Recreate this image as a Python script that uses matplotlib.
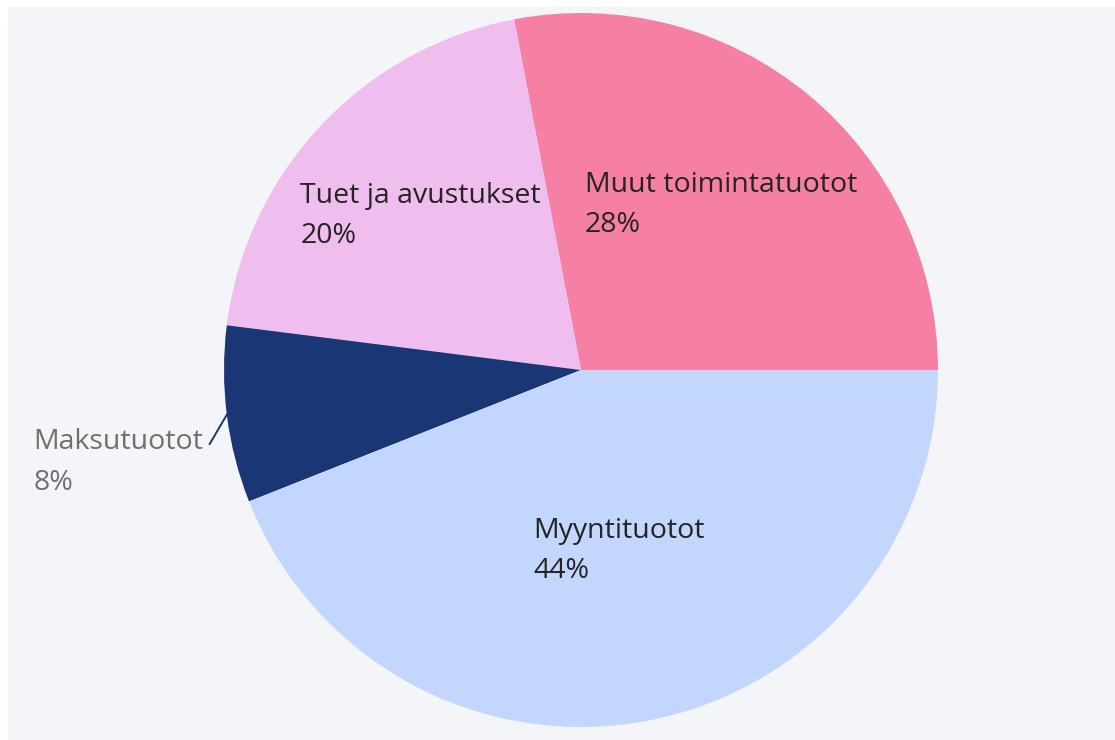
import numpy as np
import matplotlib.pyplot as plt
from matplotlib.patches import Rectangle

categories = ['Muut toimintatuotot', 'Tuet ja avustukset', 'Maksutuotot', 'Myyntituotot']
shares = [28, 20, 8, 44]
colors = ['#F680A4', '#F0BEEE', '#1B3674', '#C3D6FE']
inside = [True, True, False, True]


def main():
    fig = plt.figure(figsize=(11.15, 7.40), dpi=100, facecolor='white')
    fig.patches.append(Rectangle((8 / 1115, 0), 1, 733 / 740, transform=fig.transFigure,
                                 facecolor='#F3F5F9', edgecolor='none', zorder=-10))
    ax = fig.add_axes([0, 0, 1, 1])
    ax.set_facecolor('none')

    wedges, _ = ax.pie(shares, colors=colors, startangle=0, counterclock=True,
                       radius=1, center=(0, 0), wedgeprops=dict(linewidth=0))

    font = ['Open Sans', 'DejaVu Sans']
    label_r = {'Muut toimintatuotot': 0.6, 'Tuet ja avustukset': 0.63, 'Myyntituotot': 0.515}
    for w, cat, val, ins in zip(wedges, categories, shares, inside):
        mid = np.deg2rad((w.theta1 + w.theta2) / 2)
        text = f'{cat}\n{val}%'
        if ins:
            r = label_r[cat]
            ax.text(r * np.cos(mid) + 0.01, r * np.sin(mid), text, ha='center', va='center',
                    multialignment='left', fontsize=20.5, color='#252423',
                    family=font, linespacing=1.58)
        else:
            x0, y0 = np.cos(mid), np.sin(mid)
            x1, y1 = x0 - 0.048, y0 - 0.082
            ax.plot([x0, x1], [y0, y1], color='#1B3674', lw=1.4)
            ax.text(x1 - 0.018, y1 - 0.052, text, ha='right', va='center',
                    multialignment='left', fontsize=20.5, color='#707070',
                    family=font, linespacing=1.58)

    ax.set_xlim(-581 / 357, (1115 - 581) / 357)
    ax.set_ylim(-370 / 357, 370 / 357)
    ax.set_aspect('auto')
    ax.axis('off')
    fig.savefig('out.png', dpi=100, facecolor=fig.get_facecolor())


if __name__ == '__main__':
    main()
